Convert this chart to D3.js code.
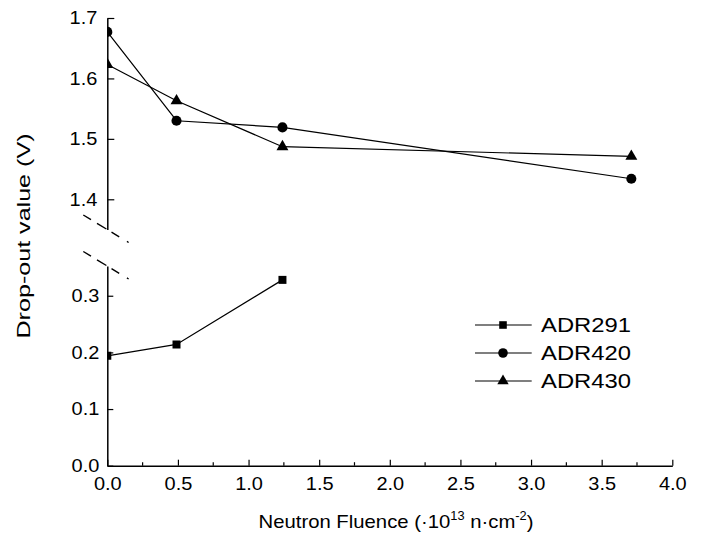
<!DOCTYPE html>
<html>
<head>
<meta charset="utf-8">
<script src="https://cdn.jsdelivr.net/npm/d3@7/dist/d3.min.js"></script>
<style>
  html, body { margin: 0; padding: 0; background: #fff; }
  svg { display: block; font-family: "Liberation Sans", Arial, Helvetica, sans-serif; }
</style>
</head>
<body>
<svg id="chart" width="705" height="533"></svg>
<script>
// Neutron fluence (x 10^13 n/cm^2) at each irradiation step
const fluenceADR291 = [0, 0.49, 1.24];
const fluenceADR4xx = [0, 0.49, 1.24, 3.71];

// Drop-out voltage (V) per device
const dropADR291 = [0.194, 0.214, 0.328];
const dropADR420 = [1.677, 1.530, 1.519, 1.434];
const dropADR430 = [1.623, 1.563, 1.487, 1.471];

// Axis tick values
const xTicksMajor = [0, 0.5, 1.0, 1.5, 2.0, 2.5, 3.0, 3.5, 4.0];
const xTicksMinor = [0.25, 0.75, 1.25, 1.75, 2.25, 2.75, 3.25, 3.75];
const yTicksLow = [0.0, 0.1, 0.2, 0.3];
const yTicksHigh = [1.4, 1.5, 1.6, 1.7];

const seriesNames = ["ADR291", "ADR420", "ADR430"];

const svg = d3.select("#chart");

// The typeface used throughout is a slightly wide grotesque; widen Liberation Sans to suit
function widen(sel, k) {
  sel.each(function () {
    const len = this.getComputedTextLength();
    d3.select(this).attr("textLength", len * k).attr("lengthAdjust", "spacingAndGlyphs");
  });
}

// Broken y axis: a lower band for ADR291 and an upper band for ADR420/430
const x = d3.scaleLinear().domain([0, 4]).range([107.3, 672.3]);
const yLow = d3.scaleLinear().domain([0, 0.3525]).range([465.7, 266]);
const yHigh = d3.scaleLinear().domain([1.35, 1.7]).range([229.5, 18]);

const x0 = x(0);

// Series are clipped at the y axis
svg.append("defs").append("clipPath").attr("id", "plotClip")
  .append("rect").attr("x", x0).attr("y", 0).attr("width", 705 - x0).attr("height", 533);

// ---- x axis ----
const xAxis = svg.append("g").attr("transform", `translate(0,${yLow(0)})`)
  .call(d3.axisBottom(x).tickValues(xTicksMajor).tickFormat(d3.format(".1f"))
    .tickSizeInner(-6).tickSizeOuter(0).tickPadding(11));
xAxis.append("g").selectAll("line").data(xTicksMinor).join("line")
  .attr("x1", d => x(d)).attr("x2", d => x(d)).attr("y1", 0).attr("y2", -3.5)
  .attr("stroke", "#000").attr("stroke-width", 1.2);

// ---- lower y axis ----
const yLowAxis = svg.append("g").attr("transform", `translate(${x0},0)`)
  .call(d3.axisLeft(yLow).tickValues(yTicksLow).tickFormat(d3.format(".1f"))
    .tickSizeInner(-6).tickSizeOuter(0).tickPadding(8));

// ---- upper y axis ----
const yHighAxis = svg.append("g").attr("transform", `translate(${x0},0)`)
  .call(d3.axisLeft(yHigh).tickValues(yTicksHigh).tickFormat(d3.format(".1f"))
    .tickSizeInner(-7).tickSizeOuter(0).tickPadding(10));

[xAxis, yLowAxis, yHighAxis].forEach(g => {
  g.select(".domain").attr("stroke", "#000").attr("stroke-width", 1.5);
  g.selectAll(".tick line").attr("stroke", "#000").attr("stroke-width", 1.2);
  const t = g.selectAll(".tick text").attr("fill", "#000").style("font-size", "18.5px")
    .style("font-family", "'Liberation Sans', Arial, sans-serif");
  widen(t, 1.08);
});

// ---- axis break marks (dashed slants through the two axis ends) ----
const breakEnds = [yHigh.range()[0], yLow.range()[1]];
svg.append("g").selectAll("line").data(breakEnds).join("line")
  .attr("x1", x0 - 24).attr("y1", d => d - 14.5)
  .attr("x2", x0 + 23).attr("y2", d => d + 14)
  .attr("stroke", "#000").attr("stroke-width", 1.4)
  .attr("stroke-dasharray", "9,7,11,6,9,9,2");

// ---- series ----
const plot = svg.append("g").attr("clip-path", "url(#plotClip)");

const series = [
  { name: seriesNames[0], xs: fluenceADR291, ys: dropADR291, y: yLow, symbol: d3.symbolSquare, size: 64 },
  { name: seriesNames[1], xs: fluenceADR4xx, ys: dropADR420, y: yHigh, symbol: d3.symbolCircle, size: 80 },
  { name: seriesNames[2], xs: fluenceADR4xx, ys: dropADR430, y: yHigh, symbol: d3.symbolTriangle, size: 62 }
];

series.forEach(s => {
  const pts = s.xs.map((v, i) => [v, s.ys[i]]);
  plot.append("path").datum(pts)
    .attr("fill", "none").attr("stroke", "#000").attr("stroke-width", 1.2)
    .attr("d", d3.line().x(d => x(d[0])).y(d => s.y(d[1])));
  plot.append("g").selectAll("path").data(pts).join("path")
    .attr("transform", d => `translate(${x(d[0])},${s.y(d[1])})`)
    .attr("d", d3.symbol().type(s.symbol).size(s.size))
    .attr("fill", "#000");
});

// ---- legend ----
const legend = svg.append("g");
const legendRows = [325, 353, 381];
series.forEach((s, i) => {
  const row = legend.append("g").attr("transform", `translate(0,${legendRows[i]})`);
  row.append("line").attr("x1", 475).attr("x2", 531.7).attr("y1", 0).attr("y2", 0)
    .attr("stroke", "#000").attr("stroke-width", 1.2);
  row.append("path").attr("transform", "translate(503,0)")
    .attr("d", d3.symbol().type(s.symbol).size(s.size * 0.9)).attr("fill", "#000");
  row.append("text").attr("x", 541).attr("y", 0).attr("dy", "0.36em")
    .style("font-size", "20px").attr("fill", "#000")
    .attr("textLength", 90).attr("lengthAdjust", "spacingAndGlyphs")
    .text(s.name);
});

// ---- axis titles ----
const xTitle = svg.append("text")
  .attr("x", 396).attr("y", 528)
  .attr("text-anchor", "middle").style("font-size", "19px").attr("fill", "#000");
xTitle.append("tspan").text("Neutron Fluence (\u00B710");
xTitle.append("tspan").attr("dy", -8).style("font-size", "12px").text("13");
xTitle.append("tspan").attr("dy", 8).text(" n\u00B7cm");
xTitle.append("tspan").attr("dy", -8).style("font-size", "12px").text("-2");
xTitle.append("tspan").attr("dy", 8).text(")");
xTitle.attr("textLength", 275).attr("lengthAdjust", "spacingAndGlyphs");

svg.append("text")
  .attr("transform", "translate(30,236) rotate(-90)")
  .attr("text-anchor", "middle").style("font-size", "19px").attr("fill", "#000")
  .attr("textLength", 205).attr("lengthAdjust", "spacingAndGlyphs")
  .text("Drop-out value (V)");
</script>
</body>
</html>
